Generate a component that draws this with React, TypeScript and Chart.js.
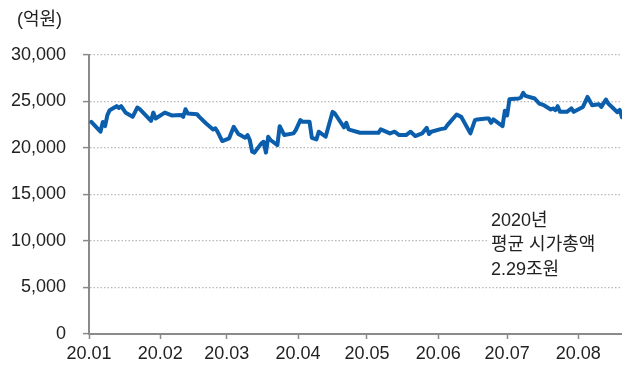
import React, { useEffect, useRef } from "react";
import { Chart, registerables } from "chart.js";

Chart.register(...registerables);

// Trading dates (2020) and daily total market cap, in 억원
const dates: string[] = [
  "01-02", "01-06", "01-07", "01-08", "01-09", "01-10", "01-13", "01-14", "01-15", "01-17",
  "01-20", "01-22", "01-23", "01-28", "01-29", "01-30", "02-03", "02-06", "02-10", "02-11",
  "02-12", "02-13", "02-17", "02-18", "02-21", "02-24", "02-25", "02-26", "02-28", "03-02",
  "03-04", "03-06", "03-09", "03-10", "03-11", "03-12", "03-13", "03-16", "03-17", "03-18",
  "03-19", "03-20", "03-23", "03-24", "03-26", "03-30", "03-31", "04-02", "04-03", "04-06",
  "04-07", "04-09", "04-10", "04-13", "04-16", "04-17", "04-21", "04-22", "04-23", "04-24",
  "04-28", "04-29", "05-04", "05-06", "05-07", "05-11", "05-13", "05-15", "05-18", "05-20",
  "05-22", "05-25", "05-27", "05-28", "05-29", "06-02", "06-04", "06-05", "06-09", "06-11",
  "06-15", "06-17", "06-18", "06-22", "06-23", "06-24", "06-25", "06-29", "06-30", "07-01",
  "07-02", "07-03", "07-06", "07-07", "07-08", "07-09", "07-13", "07-15", "07-17", "07-20",
  "07-21", "07-22", "07-23", "07-24", "07-27", "07-29", "07-30", "08-03", "08-05", "08-07",
  "08-10", "08-11", "08-13", "08-14", "08-18", "08-19", "08-20",
];

const marketCap: number[] = [
  22800, 21750, 22800, 22350, 23530, 24070, 24500, 24300, 24500, 23780,
  23350, 24350, 24200, 22920, 23810, 23170, 23810, 23500, 23560, 23350,
  24170, 23710, 23640, 23350, 22640, 22000, 22110, 21740, 20750, 21040,
  22280, 21500, 21100, 21390, 20860, 19600, 19500, 20500, 20670, 19500,
  21200, 20860, 20320, 22350, 21390, 21570, 21930, 23000, 22810, 22810,
  21100, 20930, 21750, 21210, 23880, 23710, 22210, 22710, 22000, 21930,
  21640, 21640, 21640, 21640, 22000, 21570, 21750, 21390, 21390, 21750,
  21280, 21570, 22170, 21500, 21750, 22030, 22110, 22460, 23600, 23350,
  21570, 22990, 23070, 23170, 23170, 22710, 23070, 22350, 24000, 23500,
  25240, 25280, 25320, 25430, 25930, 25600, 25320, 24780, 24600, 24140,
  24250, 24070, 24500, 23890, 23890, 24250, 23890, 24420, 25490, 24600,
  24710, 24420, 25210, 24780, 23850, 24100, 23300,
];

const monthTicks: string[] = ["01-01", "02-01", "03-01", "04-01", "05-01", "06-01", "07-01", "08-01"];
const monthLabels: string[] = ["20.01", "20.02", "20.03", "20.04", "20.05", "20.06", "20.07", "20.08"];

const yTicks: number[] = [0, 5000, 10000, 15000, 20000, 25000, 30000];
const unitLabel = "(억원)";
const noteLines: string[] = ["2020년", "평균 시가총액", "2.29조원"];

const FONT = "'Liberation Sans', 'Noto Sans CJK KR', Arial, sans-serif";
const TEXT = "#222222";
const AXIS = "#8a8a8a";

const dayOfYear = (mmdd: string): number => {
  const [m, d] = mmdd.split("-").map(Number);
  return (Date.UTC(2020, m - 1, d) - Date.UTC(2020, 0, 1)) / 86400000;
};

const tickDays = monthTicks.map(dayOfYear);
const points = dates.map((d, i) => ({ x: dayOfYear(d), y: marketCap[i] }));

const textPlugin = {
  id: "chartText",
  afterDraw(chart: any) {
    const { ctx } = chart;
    ctx.save();
    ctx.font = `18px ${FONT}`;
    ctx.fillStyle = TEXT;
    ctx.textAlign = "left";
    ctx.textBaseline = "middle";
    ctx.fillText(unitLabel, 17, 20);

    // note box over the grid
    ctx.fillStyle = "#ffffff";
    ctx.fillRect(488, 206, 134, 74);
    ctx.fillStyle = TEXT;
    ctx.textBaseline = "alphabetic";
    const baselines = [226, 250, 275];
    noteLines.forEach((t, i) => ctx.fillText(t, 491, baselines[i]));
    ctx.restore();
  },
};

export default function App() {
  const ref = useRef<HTMLCanvasElement | null>(null);

  useEffect(() => {
    if (!ref.current) return;
    const chart = new Chart(ref.current, {
      type: "line",
      data: {
        datasets: [
          {
            data: points,
            borderColor: "#0a5eac",
            borderWidth: 4,
            pointRadius: 0,
            tension: 0,
            borderJoinStyle: "round",
            borderCapStyle: "round",
            fill: false,
          },
        ],
      },
      options: {
        animation: false,
        responsive: true,
        maintainAspectRatio: false,
        layout: { padding: { top: 55, right: 0, left: 0, bottom: 0 } },
        plugins: { legend: { display: false }, tooltip: { enabled: false } },
        scales: {
          x: {
            type: "linear",
            min: 0,
            max: dayOfYear(dates[dates.length - 1]),
            afterBuildTicks: (scale: any) => {
              scale.ticks = tickDays.map((v) => ({ value: v }));
            },
            afterFit: (scale: any) => {
              scale.height = 31;
            },
            ticks: {
              autoSkip: false,
              maxRotation: 0,
              padding: 4,
              color: TEXT,
              font: { family: FONT, size: 18 },
              callback: (v: any) => {
                const i = tickDays.indexOf(Number(v));
                return i >= 0 ? monthLabels[i] : "";
              },
            },
            grid: {
              drawOnChartArea: false,
              drawTicks: true,
              tickLength: 5,
              tickColor: AXIS,
              tickWidth: 1.5,
            },
            border: { display: true, color: AXIS, width: 2 },
          },
          y: {
            min: 0,
            max: 30000,
            afterBuildTicks: (scale: any) => {
              scale.ticks = yTicks.map((v) => ({ value: v }));
            },
            afterFit: (scale: any) => {
              scale.width = 89;
            },
            ticks: {
              padding: 17,
              color: TEXT,
              font: { family: FONT, size: 18 },
              callback: (v: any) => Number(v).toLocaleString("en-US"),
            },
            grid: {
              color: "#b8b8b8",
              lineWidth: 1.2,
              tickLength: 6,
              tickColor: AXIS,
              tickWidth: 1.5,
              tickBorderDash: [],
            } as any,
            // dotted horizontal gridlines
            border: { display: true, color: AXIS, width: 2, dash: [1.5, 2] } as any,
          },
        },
      },
      plugins: [textPlugin],
    });
    return () => chart.destroy();
  }, []);

  return (
    <div style={{ position: "fixed", left: 0, top: 0, width: 622, height: 365, background: "#fff" }}>
      <canvas ref={ref} />
    </div>
  );
}
